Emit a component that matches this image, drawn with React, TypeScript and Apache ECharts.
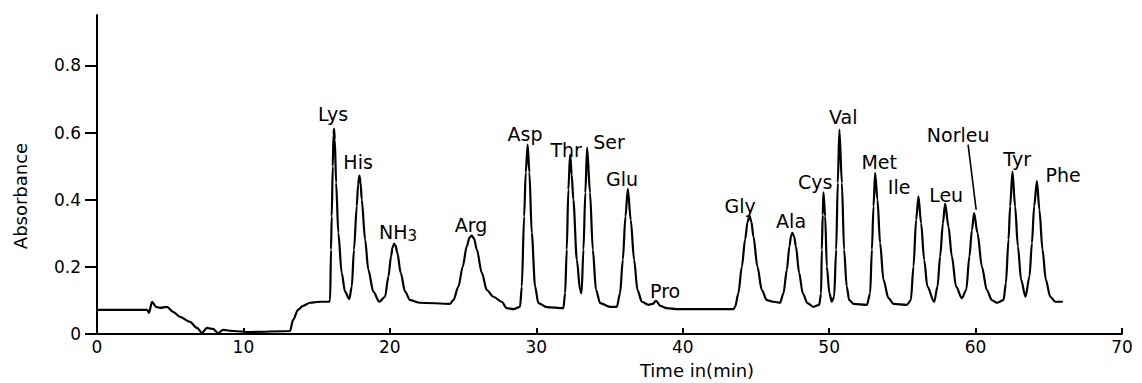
import React, { useEffect, useRef } from "react";
import * as echarts from "echarts";

// Chromatogram trace (time in min, absorbance)
const timeMin = [
  0, 3.42, 3.55, 3.76, 4.03, 4.3, 4.78, 5.19, 5.67, 6.35, 6.83, 7.17, 7.51, 7.92, 8.27, 8.61, 9.29, 10.45, 13.18,
  13.39, 13.73, 14.07, 14.55, 15.23, 15.85,
  15.92, 15.98, 16.03, 16.1, 16.15, 16.19, 16.24, 16.33, 16.48, 16.71, 16.94, 17.23,
  17.4, 17.55, 17.74, 17.83, 17.92, 18.0, 18.08, 18.31, 18.53, 18.87, 19.28,
  19.67, 19.9, 20.08, 20.18, 20.29, 20.39, 20.51, 20.74, 21.04, 21.38, 22.06, 24.11,
  24.34, 24.68, 24.98, 25.25, 25.44, 25.59, 25.75, 25.94, 26.28, 26.62, 27.07, 27.64, 27.98, 28.44, 28.89,
  29.01, 29.17, 29.28, 29.41, 29.53, 29.69, 29.92, 30.14, 30.72, 31.85,
  31.97, 32.08, 32.19, 32.31, 32.42, 32.53, 32.77, 32.99, 33.09,
  33.22, 33.35, 33.47, 33.67, 33.86, 34.08, 34.36, 35.04, 35.5,
  35.72, 35.91, 36.09, 36.25, 36.45, 36.68, 36.91, 37.21, 37.66,
  37.96, 38.18, 38.46, 38.91, 39.6, 43.46,
  43.58, 43.8, 44.04, 44.26, 44.43, 44.56, 44.69, 44.83, 45.1, 45.4, 45.74, 46.2, 46.65,
  46.88, 47.11, 47.29, 47.4, 47.49, 47.61, 47.73, 47.95, 48.2, 48.52, 48.93, 49.32,
  49.45, 49.5, 49.56, 49.61, 49.73, 49.84, 50.02, 50.18, 50.34,
  50.48, 50.59, 50.7, 50.87, 51.02, 51.2, 51.37, 51.66, 52.58,
  52.8, 52.92, 53.03, 53.14, 53.3, 53.48, 53.71, 54.05, 54.39, 55.31, 55.58,
  55.76, 55.94, 56.1, 56.28, 56.49, 56.71, 57.17,
  57.4, 57.58, 57.77, 57.92, 58.15, 58.38, 58.67, 59.06,
  59.36, 59.58, 59.75, 59.9, 60.13, 60.43, 60.77, 61.11, 61.45, 61.91,
  62.07, 62.25, 62.36, 62.52, 62.7, 62.89, 63.11, 63.41,
  63.68, 63.85, 64.0, 64.19, 64.36, 64.57, 64.8, 65.1, 65.44, 65.96,
];
const absorbance = [
  0.072, 0.072, 0.063, 0.096, 0.081, 0.078, 0.081, 0.066, 0.051, 0.036, 0.018, 0.003, 0.018, 0.015, 0.003, 0.012, 0.009, 0.006, 0.009,
  0.042, 0.072, 0.084, 0.093, 0.096, 0.096,
  0.101, 0.251, 0.35, 0.499, 0.594, 0.611, 0.579, 0.451, 0.301, 0.182, 0.126, 0.104,
  0.141, 0.251, 0.38, 0.445, 0.472, 0.451, 0.4, 0.281, 0.191, 0.126, 0.096,
  0.111, 0.171, 0.231, 0.257, 0.269, 0.263, 0.242, 0.182, 0.126, 0.101, 0.093, 0.09,
  0.101, 0.141, 0.201, 0.261, 0.287, 0.293, 0.284, 0.251, 0.182, 0.131, 0.111, 0.096, 0.077, 0.074, 0.081,
  0.141, 0.35, 0.481, 0.564, 0.481, 0.301, 0.141, 0.092, 0.08, 0.077,
  0.122, 0.251, 0.43, 0.534, 0.475, 0.4, 0.221, 0.131, 0.121,
  0.251, 0.421, 0.555, 0.421, 0.251, 0.131, 0.092, 0.081, 0.081,
  0.121, 0.221, 0.35, 0.432, 0.34, 0.221, 0.131, 0.096, 0.087,
  0.09, 0.099, 0.084, 0.077, 0.074, 0.074,
  0.081, 0.121, 0.201, 0.281, 0.334, 0.352, 0.334, 0.29, 0.201, 0.131, 0.101, 0.096, 0.093,
  0.121, 0.191, 0.261, 0.293, 0.301, 0.29, 0.261, 0.182, 0.121, 0.092, 0.081, 0.087,
  0.121, 0.251, 0.355, 0.422, 0.35, 0.201, 0.121, 0.096, 0.111,
  0.251, 0.45, 0.609, 0.45, 0.251, 0.141, 0.101, 0.09, 0.087,
  0.121, 0.251, 0.38, 0.48, 0.4, 0.271, 0.161, 0.107, 0.09, 0.087, 0.101,
  0.201, 0.34, 0.41, 0.33, 0.221, 0.141, 0.096,
  0.141, 0.231, 0.33, 0.388, 0.32, 0.231, 0.141, 0.107,
  0.131, 0.231, 0.31, 0.36, 0.301, 0.201, 0.131, 0.101, 0.093, 0.101,
  0.151, 0.281, 0.38, 0.484, 0.38, 0.261, 0.161, 0.111,
  0.171, 0.271, 0.38, 0.455, 0.37, 0.251, 0.161, 0.111, 0.096, 0.096,
];

// Peak labels (name, anchor time, anchor absorbance)
const peakNames = [
  "Lys", "His", "NH3", "Arg", "Asp", "Thr", "Ser", "Glu", "Pro", "Gly",
  "Ala", "Cys", "Val", "Met", "Ile", "Leu", "Norleu", "Tyr", "Phe",
];
const peakLabelTime = [
  16.12, 17.83, 20.56, 25.55, 29.23, 32.04, 34.97, 35.86, 38.8, 43.92,
  47.4, 49.04, 50.96, 53.42, 54.78, 57.99, 58.81, 62.84, 65.98,
];
const peakLabelAbs = [
  0.654, 0.512, 0.304, 0.325, 0.597, 0.549, 0.573, 0.463, 0.128, 0.382,
  0.337, 0.454, 0.645, 0.513, 0.439, 0.415, 0.594, 0.522, 0.475,
];

// Norleu leader line
const leaderTime = [59.49, 60.04];
const leaderAbs = [0.564, 0.37];

const yTickValues = [0, 0.2, 0.4, 0.6, 0.8];
const xTickValues = [0, 10, 20, 30, 40, 50, 60, 70];

export default function App() {
  const ref = useRef<HTMLDivElement>(null);
  useEffect(() => {
    if (!ref.current) return;
    const chart = echarts.init(ref.current, null, { renderer: "svg" });
    const font = "DejaVu Sans";
    const data = timeMin.map((t, i) => [t, absorbance[i]]);
    chart.setOption({
      animation: false,
      backgroundColor: "#ffffff",
      grid: { left: 97, right: 20, top: 15, bottom: 49 },
      xAxis: {
        type: "value",
        min: 0,
        max: 70,
        interval: 10,
        axisLine: { show: true, lineStyle: { color: "#000", width: 2 } },
        axisTick: { show: true, inside: true, length: 6, customValues: xTickValues, lineStyle: { color: "#000", width: 2 } },
        axisLabel: { color: "#000", fontFamily: font, fontSize: 17, margin: 4, lineHeight: 18, customValues: xTickValues },
        splitLine: { show: false },
      },
      yAxis: {
        type: "value",
        min: 0,
        max: 0.95,
        axisLine: { show: true, lineStyle: { color: "#000", width: 2 } },
        axisTick: { show: true, length: 12, customValues: yTickValues, lineStyle: { color: "#000", width: 2 } },
        axisLabel: { color: "#000", fontFamily: font, fontSize: 17, margin: 16, customValues: yTickValues },
        splitLine: { show: false },
      },
      series: [
        {
          type: "line",
          data,
          symbol: "none",
          showSymbol: false,
          smooth: 0.3,
          smoothMonotone: "x",
          lineStyle: { color: "#000", width: 2.2 },
          markPoint: {
            symbol: "circle",
            symbolSize: 1,
            itemStyle: { color: "rgba(0,0,0,0)" },
            label: {
              show: true,
              position: "inside",
              color: "#000",
              fontFamily: font,
              fontSize: 19,
              formatter: (p: any) => (p.name === "NH3" ? "{a|NH}{s|3}" : p.name),
              rich: {
                a: { fontFamily: font, fontSize: 19, color: "#000", lineHeight: 24, verticalAlign: "middle" },
                s: { fontFamily: font, fontSize: 15, color: "#000", lineHeight: 14, verticalAlign: "bottom" },
              },
            },
            data: peakNames.map((n, i) => ({ name: n, coord: [peakLabelTime[i], peakLabelAbs[i]] })),
          },
          markLine: {
            silent: true,
            symbol: ["none", "none"],
            label: { show: false },
            lineStyle: { color: "#000", width: 1.6, type: "solid" },
            data: [[
              { coord: [leaderTime[0], leaderAbs[0]] },
              { coord: [leaderTime[1], leaderAbs[1]] },
            ]],
          },
        },
      ],
      graphic: [
        {
          type: "text",
          x: 20,
          y: 196,
          rotation: Math.PI / 2,
          style: { text: "Absorbance", fontFamily: font, fontSize: 18, fill: "#000", align: "center", verticalAlign: "middle" },
        },
        {
          type: "text",
          x: 697,
          y: 370,
          style: { text: "Time in(min)", fontFamily: font, fontSize: 18, fill: "#000", align: "center", verticalAlign: "middle" },
        },
      ],
    });
    return () => chart.dispose();
  }, []);
  return <div ref={ref} style={{ position: "fixed", left: 0, top: 0, width: 1142, height: 383 }} />;
}
